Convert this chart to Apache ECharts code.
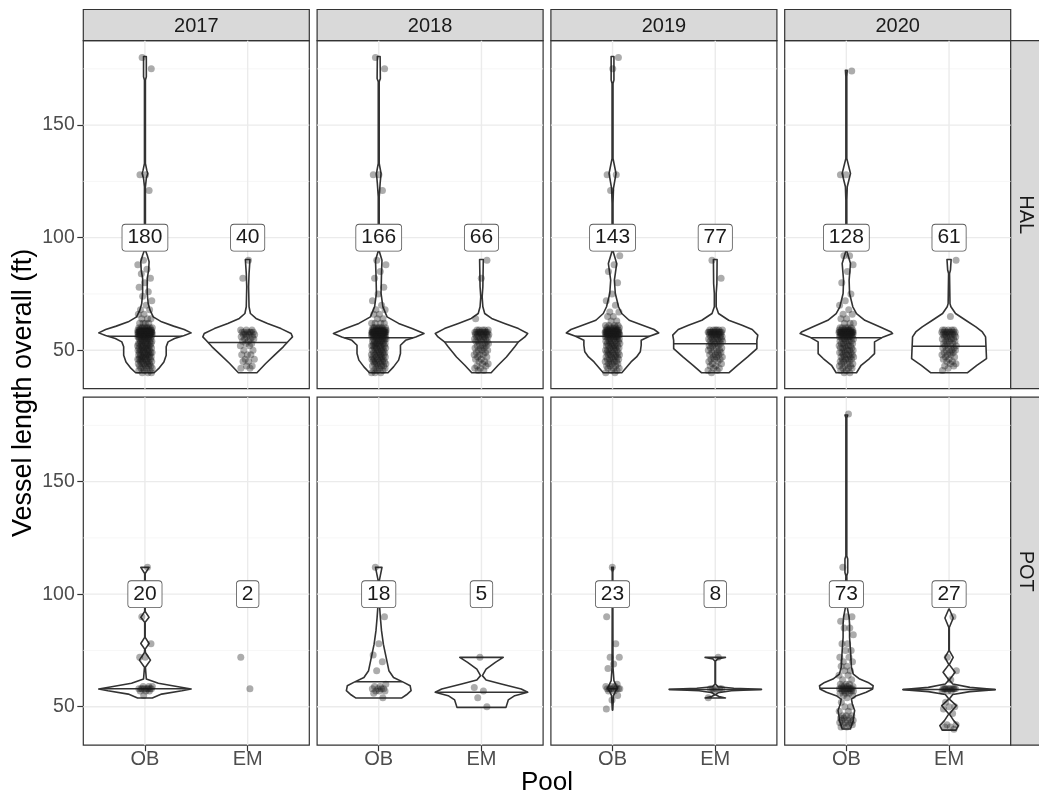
<!DOCTYPE html>
<html><head><meta charset="utf-8">
<script src="https://cdn.jsdelivr.net/npm/echarts@6/dist/echarts.min.js"></script>
<style>html,body{margin:0;padding:0;background:#fff}#c{width:1039px;height:796px}</style>
</head><body><div id="c"></div>
<script>
// ---------------- DATA ----------------
const years = ['2017', '2018', '2019', '2020'];
const fisheries = ['HAL', 'POT'];
const pools = ['OB', 'EM'];
const yTicks = [50, 100, 150];
const yMinor = [75, 125, 175];
const labelY = 100;

// sample sizes (labels)
const n_HAL = [[180, 40], [166, 66], [143, 77], [128, 61]];
const n_POT = [[20, 2], [18, 5], [23, 8], [73, 27]];

// medians (draw_quantiles = 0.5)
const med_HAL = [[56.2, 53.4], [55.5, 53.7], [56.2, 52.9], [55.5, 51.8]];
const med_POT = [[58.0, null], [61.1, 56.4], [58.0, 57.7], [58.2, 57.6]];

// violin outlines: [length, relative half-width]
const vio_HAL_2017_OB = [[180.5,.03],[171.5,.03],[170,.01],[133,.01],[130,.04],[128.5,.06],[126.3,.03],[122.6,.01],[94.4,.01],[92.2,.05],[89.3,.09],[85.6,.08],[81.9,.05],[75.2,.05],[70.7,.07],[67.8,.11],[64.8,.18],[62.6,.36],[60.7,.62],[59.2,.85],[57.7,1],[56.5,.85],[55.2,.64],[53.7,.5],[51.5,.46],[47.8,.46],[44.8,.41],[41.9,.3],[40,.2]];
const vio_HAL_2017_EM = [[90.3,.05],[84.1,.03],[78.2,.02],[69.3,.03],[66.3,.06],[64.1,.18],[61.9,.43],[59.6,.72],[57.4,.94],[55.9,.97],[54.4,.9],[51.5,.77],[47.8,.58],[44.1,.39],[40,.2]];
const vio_HAL_2018_OB = [[180.5,.03],[170.7,.035],[169.3,.01],[133,.01],[128.5,.05],[124.1,.03],[118.1,.01],[94.1,.01],[90,.07],[84.1,.06],[75.2,.05],[69.3,.09],[64.8,.18],[61.9,.43],[59.6,.72],[57.4,.98],[55.9,.8],[54.4,.58],[52.2,.47],[48.5,.47],[45.6,.43],[42.6,.32],[40,.2]];
const vio_HAL_2018_EM = [[90.3,.04],[78.2,.03],[73.7,.015],[69.3,.03],[66.3,.07],[64.1,.22],[61.9,.5],[59.6,.8],[57.4,1],[55.9,.94],[53.7,.8],[51.5,.72],[47,.54],[43.3,.36],[40,.21]];
const vio_HAL_2019_OB = [[180.5,.03],[170,.03],[168.5,.01],[135.2,.01],[128.5,.075],[121.9,.02],[115.2,.01],[94.1,.01],[88.5,.09],[81.1,.04],[75.2,.06],[69.3,.13],[66.3,.2],[63.3,.36],[61.1,.65],[59.2,.9],[57.7,1],[56.2,.8],[54.4,.62],[52.2,.62],[49.3,.6],[47,.52],[44.8,.4],[41.9,.28],[40,.2]];
const vio_HAL_2019_EM = [[90.3,.04],[79.6,.035],[75.2,.02],[69.3,.02],[66.3,.07],[63.3,.29],[61.1,.58],[59.2,.8],[56.7,.92],[54.4,.9],[50.7,.9],[47,.7],[43.3,.48],[40,.3]];
const vio_HAL_2020_OB = [[174.4,.02],[171.5,.01],[135.2,.01],[128.5,.09],[122.6,.02],[116.7,.01],[94.1,.01],[88.5,.09],[81.1,.06],[75.2,.07],[69.3,.14],[66.3,.22],[63.3,.4],[60.4,.72],[58.1,.97],[57.4,1],[55.9,.8],[53.7,.61],[48.5,.61],[46.3,.5],[43.3,.32],[40,.22]];
const vio_HAL_2020_EM = [[90.3,.045],[85.6,.03],[84.1,.01],[70.7,.02],[69.3,.04],[66.3,.14],[63.3,.36],[60.4,.58],[58.1,.72],[55.9,.79],[46.3,.81],[43.3,.6],[40,.4]];
const vio_POT_2017_OB = [[111.9,.09],[109.2,.005],[92.3,.005],[89.7,.09],[87.5,.005],[80.8,.005],[78.1,.09],[75.6,.005],[74.1,.01],[70.7,.12],[67.5,.01],[62.3,.03],[60.4,.29],[58.9,.72],[57.9,1],[57.1,.8],[55.6,.36],[53.9,.16]];
const vio_POT_2017_EM = null;
const vio_POT_2018_OB = [[111.9,.07],[105.2,.005],[94.1,.02],[89.7,.035],[83.8,.06],[77.8,.1],[71.9,.16],[66,.22],[63,.32],[60.8,.54],[59.3,.68],[57.1,.7],[55.3,.6],[53.9,.5]];
const vio_POT_2018_EM = [[71.9,.47],[69.7,.3],[66.7,.1],[63.8,.02],[61.9,.1],[60.1,.43],[57.9,.86],[56.4,1],[54.9,.72],[53,.58],[49.7,.53]];
const vio_POT_2019_OB = [[111.9,.02],[109.6,.005],[67.5,.01],[61.6,.03],[59.3,.08],[58.2,.11],[57.1,.07],[54.9,.02],[48.5,.005]];
const vio_POT_2019_EM = [[71.9,.22],[71.2,.05],[70.2,.005],[60.1,.005],[58.9,.06],[58.2,.4],[57.7,1],[57.1,.35],[56.2,.06],[55.3,.005],[54.5,.08],[53.9,.22]];
const vio_POT_2020_OB = [[179.6,.03],[178.4,.01],[117,.01],[115.6,.03],[109.6,.03],[108.2,.01],[94.1,.02],[89.7,.06],[86.7,.07],[80.8,.07],[74.9,.09],[67.5,.11],[64.5,.15],[62.3,.29],[60.8,.47],[59.3,.58],[57.9,.57],[56.4,.43],[54.9,.22],[53.4,.11],[51.2,.13],[48.3,.18],[46,.16],[43.8,.15],[41.6,.11],[40.1,.09]];
const vio_POT_2020_EM = [[93.4,.005],[89.4,.09],[85.2,.005],[74.9,.005],[71.9,.09],[68.7,.005],[65.3,.13],[61.9,.005],[60.1,.08],[58.6,.45],[57.6,1],[56.7,.45],[55.4,.08],[53.4,.005],[50.5,.16],[46.8,.005],[43.8,.1],[41.6,.2],[39.6,.15]];

// jittered observations: [length, count]
const pts_HAL_2017_OB = [[180,1],[175,1],[128,2],[121,1],[90,1],[88,1],[86,1],[84,1],[82,1],[80,1],[78,1],[76,1],[74,1],[72,1],[70,1],[68,2],[66,2],[64,3],[62,4],[60,8],[59,12],[58,25],[57,14],[56,10],[55,6],[54,6],[53,6],[52,6],[51,6],[50,6],[49,6],[48,6],[47,6],[46,6],[45,5],[44,5],[43,4],[42,4],[41,3],[40,3]];
const pts_HAL_2017_EM = [[90,1],[82,1],[59,3],[58,6],[57,4],[56,3],[55,3],[54,2],[53,2],[52,2],[50,2],[48,3],[46,2],[45,2],[43,2],[42,2]];
const pts_HAL_2018_OB = [[180,1],[175,1],[128,2],[121,1],[90,1],[88,1],[85,1],[82,1],[78,1],[75,1],[72,1],[70,1],[68,2],[66,2],[64,2],[62,4],[60,7],[59,12],[58,25],[57,14],[56,9],[55,6],[54,6],[53,6],[52,6],[51,5],[50,5],[49,5],[48,5],[47,5],[46,5],[45,5],[44,4],[43,4],[42,3],[41,3],[40,3]];
const pts_HAL_2018_EM = [[90,1],[82,1],[64,1],[59,5],[58,10],[57,6],[56,5],[55,4],[54,4],[53,3],[52,3],[51,3],[50,3],[49,2],[48,3],[47,2],[46,2],[45,2],[44,2],[43,2],[42,2],[41,2]];
const pts_HAL_2019_OB = [[180,1],[175,1],[128,2],[121,1],[92,1],[88,1],[85,1],[80,1],[75,1],[72,1],[70,1],[67,2],[65,2],[63,2],[61,4],[60,6],[59,10],[58,21],[57,12],[56,9],[55,5],[54,5],[53,5],[52,5],[51,4],[50,5],[49,4],[48,5],[47,4],[46,4],[45,4],[44,3],[43,3],[42,3],[41,2],[40,2]];
const pts_HAL_2019_EM = [[90,1],[82,1],[59,6],[58,12],[57,7],[56,5],[55,5],[54,4],[53,4],[52,3],[51,3],[50,3],[49,3],[48,3],[47,3],[46,3],[45,2],[44,2],[43,2],[42,2],[41,2],[40,1]];
const pts_HAL_2020_OB = [[174,1],[128,2],[92,2],[88,1],[85,1],[80,1],[75,1],[72,1],[70,1],[68,1],[66,2],[64,2],[62,3],[60,5],[59,9],[58,20],[57,11],[56,8],[55,4],[54,4],[53,4],[52,4],[51,4],[50,4],[49,4],[48,4],[47,4],[46,4],[45,3],[44,3],[43,3],[42,3],[41,2],[40,2]];
const pts_HAL_2020_EM = [[90,1],[65,1],[59,5],[58,8],[57,5],[56,4],[55,4],[54,3],[53,3],[52,3],[51,3],[50,3],[49,3],[48,3],[47,2],[46,2],[45,2],[44,2],[43,2],[42,1],[41,1]];
const pts_POT_2017_OB = [[112,1],[90,1],[78,1],[72,2],[59,3],[58,8],[57,3],[55,1]];
const pts_POT_2017_EM = [[72,1],[58,1]];
const pts_POT_2018_OB = [[112,1],[90,1],[78,1],[73,1],[70,1],[66,1],[60,1],[59,2],[58,4],[57,3],[56,1],[54,1]];
const pts_POT_2018_EM = [[72,1],[58.5,1],[57,1],[54,1],[50,1]];
const pts_POT_2019_OB = [[112,1],[90,1],[78,1],[72,2],[69,1],[67,1],[60,1],[59,3],[58,7],[57,2],[55,1],[53,1],[49,1]];
const pts_POT_2019_EM = [[72,1],[58,5],[57,1],[54,1]];
const pts_POT_2020_OB = [[180,1],[112,1],[90,2],[88,1],[85,2],[82,1],[78,2],[75,2],[72,2],[70,2],[68,2],[66,2],[64,2],[62,2],[60,3],[59,4],[58,9],[57,5],[56,3],[55,2],[54,1],[52,1],[50,2],[48,2],[46,3],[45,3],[44,3],[43,3],[42,3],[41,2]];
const pts_POT_2020_EM = [[90,1],[72,1],[66,1],[62,1],[58,10],[57,3],[52,1],[50,2],[49,1],[47,1],[42,2],[41,2],[40,1]];

// ---------------- ASSEMBLY ----------------
const VIO = {
  HAL: [[vio_HAL_2017_OB, vio_HAL_2017_EM], [vio_HAL_2018_OB, vio_HAL_2018_EM], [vio_HAL_2019_OB, vio_HAL_2019_EM], [vio_HAL_2020_OB, vio_HAL_2020_EM]],
  POT: [[vio_POT_2017_OB, vio_POT_2017_EM], [vio_POT_2018_OB, vio_POT_2018_EM], [vio_POT_2019_OB, vio_POT_2019_EM], [vio_POT_2020_OB, vio_POT_2020_EM]]
};
const PTS = {
  HAL: [[pts_HAL_2017_OB, pts_HAL_2017_EM], [pts_HAL_2018_OB, pts_HAL_2018_EM], [pts_HAL_2019_OB, pts_HAL_2019_EM], [pts_HAL_2020_OB, pts_HAL_2020_EM]],
  POT: [[pts_POT_2017_OB, pts_POT_2017_EM], [pts_POT_2018_OB, pts_POT_2018_EM], [pts_POT_2019_OB, pts_POT_2019_EM], [pts_POT_2020_OB, pts_POT_2020_EM]]
};
const NN = { HAL: n_HAL, POT: n_POT };
const MED = { HAL: med_HAL, POT: med_POT };

// layout
const FONT = '"Liberation Sans", Arial, Helvetica, sans-serif';
const PL = 83.3, PW = 226, PSTEP = 233.8, PT = [40.7, 397.2], PH = 348;
const STRIP_T = 9.5, STRIP_H = PT[0] - STRIP_T;
const STRIP_R = PL + 3 * PSTEP + PW;
const HW = 0.45;      // half of violin width (x units)
const JIT = 0.072;    // jitter half-width
const Y_MIN = 32.9, Y_MAX = 187.5;

function jitter(k) {
  const f = (k * 0.6180339887498949 + 0.31) % 1;
  return (f * 2 - 1) * JIT;
}
function widthAt(prof, v) {
  for (let i = 0; i < prof.length - 1; i++) {
    const a = prof[i], b = prof[i + 1];
    if ((v <= a[0] && v >= b[0])) {
      const t = (a[0] - v) / (a[0] - b[0] || 1);
      return a[1] + (b[1] - a[1]) * t;
    }
  }
  return 0;
}

const grids = [], xAxes = [], yAxes = [], series = [];
let jk = 0;
fisheries.forEach((fish, r) => {
  years.forEach((yr, c) => {
    const g = r * 4 + c;
    grids.push({ left: PL + c * PSTEP, top: PT[r], width: PW, height: PH, show: true,
      borderColor: '#333333', borderWidth: 1.2, backgroundColor: 'transparent', containLabel: false });
    const bottom = r === 1, leftCol = c === 0;
    xAxes.push({ type: 'value', gridIndex: g, min: 0.4, max: 2.6, position: 'bottom',
      axisLine: { show: false }, splitLine: { show: false },
      axisTick: { show: bottom, customValues: [1, 2], length: 6, lineStyle: { color: '#333333', width: 1.2 } },
      axisLabel: { show: bottom, customValues: [1, 2], margin: 4.5, formatter: v => pools[Math.round(v) - 1] || '',
        color: '#4D4D4D', fontSize: 20, fontFamily: FONT } });
    yAxes.push({ type: 'value', gridIndex: g, min: Y_MIN, max: Y_MAX,
      axisLine: { show: false }, splitLine: { show: false },
      axisTick: { show: leftCol, customValues: yTicks, length: 6, lineStyle: { color: '#333333', width: 1.2 } },
      axisLabel: { show: leftCol, customValues: yTicks, margin: 8.5, color: '#4D4D4D', fontSize: 19.5, fontFamily: FONT } });

    // grid lines
    const gl = [];
    yTicks.forEach(v => gl.push([0, v, 1]));
    yMinor.forEach(v => gl.push([0, v, 0]));
    pools.forEach((p, i) => gl.push([1, i + 1, 1]));
    series.push({ type: 'custom', xAxisIndex: g, yAxisIndex: g, z: 1, silent: true, data: gl,
      encode: { x: 1, y: 1 },
      renderItem: (params, api) => {
        const cs = params.coordSys;
        const major = api.value(2) === 1;
        const st = { stroke: major ? '#EBEBEB' : '#F4F4F4', lineWidth: major ? 1.4 : 0.8 };
        if (api.value(0) === 0) {
          const y = api.coord([1, api.value(1)])[1];
          return { type: 'line', shape: { x1: cs.x, y1: y, x2: cs.x + cs.width, y2: y }, style: st };
        }
        const x = api.coord([api.value(1), 100])[0];
        return { type: 'line', shape: { x1: x, y1: cs.y, x2: x, y2: cs.y + cs.height }, style: st };
      } });

    // violins
    const vd = pools.map((p, i) => [i + 1, MED[fish][c][i] == null ? 0 : MED[fish][c][i], i]);
    series.push({ type: 'custom', xAxisIndex: g, yAxisIndex: g, z: 2, silent: true, data: vd,
      renderItem: (params, api) => {
        const i = api.value(2);
        const prof = VIO[fish][c][i];
        if (!prof) return null;
        const x0 = api.value(0);
        const right = prof.map(([v, w]) => api.coord([x0 + w * HW, v]));
        const left = prof.slice().reverse().map(([v, w]) => api.coord([x0 - w * HW, v]));
        const med = MED[fish][c][i];
        const wm = widthAt(prof, med);
        const a = api.coord([x0 - wm * HW, med]), b = api.coord([x0 + wm * HW, med]);
        return { type: 'group', children: [
          { type: 'polygon', shape: { points: right.concat(left) }, style: { fill: '#ffffff', stroke: '#333333', lineWidth: 1.6, lineJoin: 'round' } },
          { type: 'line', shape: { x1: a[0], y1: a[1], x2: b[0], y2: b[1] }, style: { stroke: '#333333', lineWidth: 1.5 } }
        ] };
      } });

    // jittered points
    const pd = [];
    pools.forEach((p, i) => {
      PTS[fish][c][i].forEach(([v, cnt]) => {
        for (let k = 0; k < cnt; k++) { pd.push([i + 1 + jitter(jk++), v]); }
      });
    });
    series.push({ type: 'scatter', xAxisIndex: g, yAxisIndex: g, z: 3, silent: true, data: pd,
      symbol: 'circle', symbolSize: 7, itemStyle: { color: 'rgba(25,25,25,0.45)' } });

    // n labels
    const ld = pools.map((p, i) => [i + 1, labelY, NN[fish][c][i]]);
    series.push({ type: 'custom', xAxisIndex: g, yAxisIndex: g, z: 4, silent: true, data: ld,
      renderItem: (params, api) => {
        const pt = api.coord([api.value(0), api.value(1)]);
        return { type: 'text', x: pt[0], y: pt[1], style: { text: String(api.value(2)), fontSize: 21, fontFamily: FONT,
          fill: '#1A1A1A', align: 'center', verticalAlign: 'middle', backgroundColor: '#ffffff',
          borderColor: '#555555', borderWidth: 0.8, borderRadius: 3, padding: [3, 5, 2, 5] } };
      } });
  });
});

// strips and titles
const graphics = [];
years.forEach((yr, c) => {
  graphics.push({ type: 'rect', shape: { x: PL + c * PSTEP, y: STRIP_T, width: PW, height: STRIP_H },
    style: { fill: '#D9D9D9', stroke: '#333333', lineWidth: 1.2 }, silent: true });
  graphics.push({ type: 'text', x: PL + c * PSTEP + PW / 2, y: STRIP_T + STRIP_H / 2 + 1,
    style: { text: yr, fontSize: 20, fontFamily: FONT, fill: '#1A1A1A', align: 'center', verticalAlign: 'middle' }, silent: true });
});
fisheries.forEach((f, r) => {
  graphics.push({ type: 'rect', shape: { x: STRIP_R, y: PT[r], width: STRIP_H, height: PH },
    style: { fill: '#D9D9D9', stroke: '#333333', lineWidth: 1.2 }, silent: true });
  graphics.push({ type: 'text', x: STRIP_R + STRIP_H / 2 - 1, y: PT[r] + PH / 2, rotation: -Math.PI / 2,
    style: { text: f, fontSize: 20, fontFamily: FONT, fill: '#1A1A1A', align: 'center', verticalAlign: 'middle' }, silent: true });
});
graphics.push({ type: 'text', x: 24, y: (PT[0] + PT[1] + PH) / 2, rotation: Math.PI / 2,
  style: { text: 'Vessel length overall (ft)', fontSize: 27, fontFamily: FONT, fill: '#000000', align: 'center', verticalAlign: 'middle' }, silent: true });
graphics.push({ type: 'text', x: PL + (STRIP_R - PL) / 2, y: 783,
  style: { text: 'Pool', fontSize: 26, fontFamily: FONT, fill: '#000000', align: 'center', verticalAlign: 'middle' }, silent: true });

const chart = echarts.init(document.getElementById('c'), null, { renderer: 'canvas' });
chart.setOption({
  animation: false,
  backgroundColor: '#ffffff',
  grid: grids, xAxis: xAxes, yAxis: yAxes, series: series,
  graphic: { elements: graphics }
});
</script>
</body></html>
